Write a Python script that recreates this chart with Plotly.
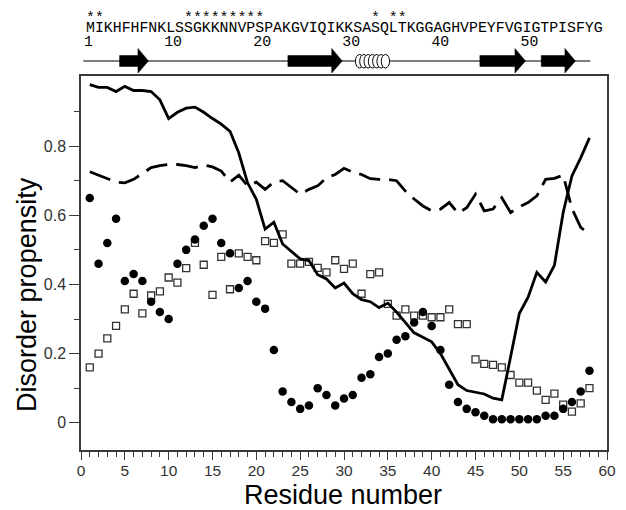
import plotly.graph_objects as go

# ---------------- data ----------------
residues = list(range(1, 59))
sequence = "MIKHFHFNKLSSGKKNNVPSPAKGVIQIKKSASQLTKGGAGHVPEYFVGIGTPISFYG"

solid_line = [0.978, 0.970, 0.970, 0.958, 0.973, 0.961, 0.961, 0.958, 0.934, 0.880,
              0.898, 0.910, 0.913, 0.898, 0.880, 0.864, 0.843, 0.780, 0.694, 0.646,
              0.560, 0.580, 0.517, 0.496, 0.474, 0.469, 0.428, 0.416, 0.390, 0.404,
              0.373, 0.356, 0.350, 0.333, 0.346, 0.320, 0.289, 0.260, 0.247, 0.234,
              0.200, 0.157, 0.110, 0.093, 0.088, 0.083, 0.071, 0.066, 0.190, 0.316,
              0.363, 0.435, 0.407, 0.455, 0.608, 0.714, 0.766, 0.824]

dashed_line = [0.726, 0.716, 0.705, 0.696, 0.694, 0.704, 0.721, 0.738, 0.744, 0.747,
               0.747, 0.744, 0.738, 0.745, 0.740, 0.728, 0.696, 0.716, 0.685, 0.696,
               0.675, 0.696, 0.700, 0.680, 0.661, 0.675, 0.685, 0.709, 0.718, 0.736,
               0.725, 0.718, 0.706, 0.704, 0.704, 0.700, 0.670, 0.647, 0.627, 0.613,
               0.618, 0.637, 0.606, 0.622, 0.661, 0.613, 0.618, 0.651, 0.608, 0.624,
               0.637, 0.656, 0.704, 0.707, 0.716, 0.620, 0.565, 0.546]

filled_circles = [0.65, 0.46, 0.52, 0.59, 0.41, 0.43, 0.41, 0.35, 0.32, 0.30,
                  0.46, 0.50, 0.53, 0.57, 0.59, 0.52, 0.49, 0.39, 0.41, 0.35,
                  0.33, 0.21, 0.09, 0.06, 0.04, 0.05, 0.10, 0.08, 0.05, 0.07,
                  0.08, 0.13, 0.14, 0.19, 0.20, 0.24, 0.25, 0.29, 0.32, 0.28,
                  0.21, 0.11, 0.06, 0.04, 0.03, 0.02, 0.01, 0.01, 0.01, 0.01,
                  0.01, 0.01, 0.02, 0.02, 0.04, 0.06, 0.09, 0.15]

open_squares = [0.160, 0.200, 0.244, 0.280, 0.328, 0.373, 0.316, 0.368, 0.380, 0.420,
                0.405, 0.447, 0.520, 0.457, 0.370, 0.480, 0.386, 0.490, 0.480, 0.470,
                0.525, 0.520, 0.545, 0.460, 0.460, 0.465, 0.448, 0.435, 0.470, 0.445,
                0.460, 0.373, 0.430, 0.435, 0.344, 0.310, 0.328, 0.310, 0.310, 0.305,
                0.305, 0.328, 0.285, 0.285, 0.183, 0.170, 0.167, 0.160, 0.138, 0.116,
                0.116, 0.093, 0.066, 0.084, 0.052, 0.032, 0.056, 0.100]

starred_residues = [1, 2, 12, 13, 14, 15, 16, 17, 18, 19, 20, 33, 35, 36]
numbered_residues = [1, 10, 20, 30, 40, 50]
strands = [(4.4, 7.7), (23.6, 29.8), (45.5, 50.7), (52.5, 56.4)]
helix = (31.3, 35.2)

x_ticks = list(range(0, 61, 5))
y_ticks = [0, 0.2, 0.4, 0.6, 0.8]
y_ticktext = ["0", "0.2", "0.4", "0.6", "0.8"]

# ---------------- figure ----------------
W, H = 626, 510
ML, MR, MT, MB = 81, 10, 76, 60
plot_h = H - MT - MB
plot_w = W - ML - MR
NBSP = "\u00a0"


def py(p):
    """pixel row (from top of page) -> paper y"""
    return (H - MB - p) / plot_h


def px(p):
    """pixel column (from left of page) -> paper x"""
    return (p - ML) / plot_w


def mono_row(items):
    """build a monospace row where item text starts in the cell of its residue"""
    cells = {}
    for r, txt in items:
        for k, ch in enumerate(txt):
            cells[r + k] = ch
    last = max(cells)
    return "".join(cells.get(i, NBSP) for i in range(1, last + 1))


star_row = mono_row([(r, "*") for r in starred_residues])
number_row = mono_row([(r, str(r)) for r in numbered_residues])

AX = "#3a3a3a"
MONO = "Liberation Mono"
SANS = "Liberation Sans, Arial"
MONO_SIZE = 14.85  # 0.6 em advance -> one residue per character cell
fig = go.Figure()

fig.add_trace(go.Scatter(x=residues, y=open_squares, mode="markers",
                         marker=dict(symbol="square-open", size=7, color="#333333",
                                     line=dict(width=1.3, color="#333333")),
                         showlegend=False, hoverinfo="skip"))
fig.add_trace(go.Scatter(x=residues, y=filled_circles, mode="markers",
                         marker=dict(symbol="circle", size=8.5, color="black"),
                         showlegend=False, hoverinfo="skip"))
fig.add_trace(go.Scatter(x=residues, y=dashed_line, mode="lines",
                         line=dict(color="black", width=2.8, dash="22px,9px"),
                         showlegend=False, hoverinfo="skip"))
fig.add_trace(go.Scatter(x=residues, y=solid_line, mode="lines",
                         line=dict(color="black", width=2.8),
                         showlegend=False, hoverinfo="skip"))

shapes = []
# backbone line of the secondary-structure cartoon
shapes.append(dict(type="line", xref="x", yref="paper", x0=0.25, x1=58.1,
                   y0=py(61), y1=py(61), line=dict(color="black", width=1.2)))
# beta strands as arrows
head_len = 1.2
for s0, s1 in strands:
    xh = s1 - head_len
    yb0, yb1 = py(66.5), py(55.5)
    yh0, yh1 = py(73), py(48.5)
    ym = py(61)
    path = (f"M {s0},{yb0} L {xh},{yb0} L {xh},{yh0} L {s1},{ym} "
            f"L {xh},{yh1} L {xh},{yb1} L {s0},{yb1} Z")
    shapes.append(dict(type="path", xref="x", yref="paper", path=path,
                       fillcolor="black", line=dict(color="black", width=0.5)))
# helix as a coil of ellipses
h0, h1 = helix
n_coil = 7
ew = 0.95
step = (h1 - h0 - ew) / (n_coil - 1)
for k in range(n_coil):
    cx0 = h0 + k * step
    shapes.append(dict(type="circle", xref="x", yref="paper",
                       x0=cx0, x1=cx0 + ew, y0=py(68), y1=py(54.5),
                       fillcolor="white", line=dict(color="black", width=1)))

annotations = []
mono_font = dict(family=MONO, size=MONO_SIZE, color="black")
# asterisk row, sequence row, residue-number row
annotations.append(dict(text=star_row, xref="x", yref="paper", x=0.5, y=py(18.5),
                        xanchor="left", yanchor="middle", showarrow=False,
                        borderpad=0, font=mono_font))
annotations.append(dict(text=sequence, xref="x", yref="paper", x=0.5, y=py(28.3),
                        xanchor="left", yanchor="middle", showarrow=False,
                        borderpad=0, font=mono_font))
annotations.append(dict(text=number_row, xref="x", yref="paper", x=0.25, y=py(41.7),
                        xanchor="left", yanchor="middle", showarrow=False,
                        borderpad=0, font=mono_font))
# axis titles
annotations.append(dict(text="Residue number", xref="paper", yref="paper",
                        x=px(347), y=py(494.9), borderpad=0,
                        xanchor="center", yanchor="middle", showarrow=False,
                        font=dict(family=SANS, size=27, color="black")))
annotations.append(dict(text="Disorder propensity", xref="paper", yref="paper",
                        x=px(26), y=py(294), textangle=-90,
                        xanchor="center", yanchor="middle", showarrow=False,
                        font=dict(family=SANS, size=27, color="black")))

fig.update_layout(
    width=W, height=H,
    margin=dict(l=ML, r=MR, t=MT, b=MB, pad=0),
    paper_bgcolor="white", plot_bgcolor="white",
    shapes=shapes, annotations=annotations,
    showlegend=False,
    xaxis=dict(range=[0, 60], tickvals=x_ticks, ticks="outside", ticklen=8,
               tickwidth=1.3, tickcolor=AX, showline=True, linecolor=AX,
               linewidth=1.5, mirror=True, showgrid=False, zeroline=False,
               ticklabelstandoff=-2,
               tickfont=dict(family=SANS, size=15.5, color="#333333"),
               minor=dict(dtick=1, ticks="outside", ticklen=5, tickwidth=1.2,
                          tickcolor=AX, showgrid=False)),
    yaxis=dict(range=[-0.079, 1.003], tickvals=y_ticks, ticktext=y_ticktext,
               ticks="outside", ticklen=10, tickwidth=1.3, tickcolor=AX,
               showline=True, linecolor=AX, linewidth=1.5, mirror=True,
               showgrid=False, zeroline=False,
               tickfont=dict(family=SANS, size=16, color="#333333"),
               minor=dict(tickvals=[0.1, 0.3, 0.5, 0.7, 0.9], ticks="outside",
                          ticklen=5, tickwidth=1.2, tickcolor=AX, showgrid=False)),
)

fig.write_html("out.html", config={"displayModeBar": False},
               post_script="document.body.style.margin='0px';")
